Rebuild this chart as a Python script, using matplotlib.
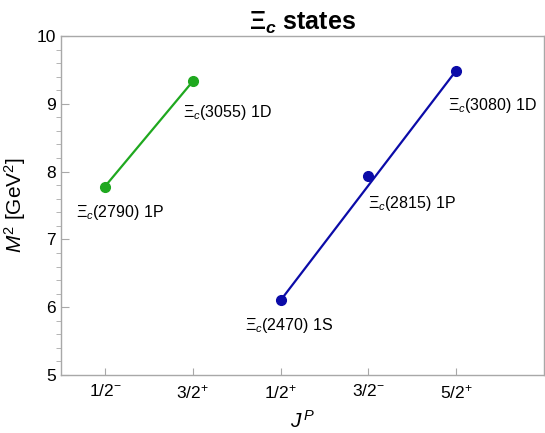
import numpy as np
import matplotlib
matplotlib.use("Agg")
import matplotlib.pyplot as plt
from matplotlib.ticker import MultipleLocator

plt.rcParams['font.family'] = ['Liberation Sans', 'DejaVu Sans']
plt.rcParams['mathtext.fontset'] = 'custom'
plt.rcParams['mathtext.rm'] = 'Liberation Sans'
plt.rcParams['mathtext.it'] = 'Liberation Sans:italic'
plt.rcParams['mathtext.bf'] = 'Liberation Sans:bold'
plt.rcParams['mathtext.bfit'] = 'Liberation Sans:bold:italic'

# J^P categories along the x axis
jp_labels = [r'1/2$^{-}$', r'3/2$^{+}$', r'1/2$^{+}$', r'3/2$^{-}$', r'5/2$^{+}$']
jp_pos = [1, 2, 3, 4, 5]

# green trajectory
green_x = [1, 2]
green_m2 = [7.78, 9.33]
green_names = [r'$\Xi_c$(2790) 1P', r'$\Xi_c$(3055) 1D']

# blue trajectory
blue_x = [3, 4, 5]
blue_m2 = [6.10, 7.93, 9.49]
blue_names = [r'$\Xi_c$(2470) 1S', r'$\Xi_c$(2815) 1P', r'$\Xi_c$(3080) 1D']

# label offsets (pixels)
green_off = [(15, -26), (35, -31)]
blue_off = [(9, -25), (44, -27), (36, -35)]

green = '#1fa81f'
blue = '#0b0ba8'
frame = '#a8a8a8'

fig = plt.figure(figsize=(5.45, 4.33), dpi=100)
ax = fig.add_axes([61/545, 1 - 375/433, (544 - 61)/545, (375 - 36)/433])

ax.plot(green_x, green_m2, color=green, lw=1.6, marker='o', ms=7)
bx = np.array(blue_x)
by = np.array(blue_m2)
ax.plot(bx[[0, -1]], by[[0, -1]], color=blue, lw=1.6)
ax.plot(bx, by, 'o', color=blue, ms=7)

for x, y, s, o in zip(green_x, green_m2, green_names, green_off):
    ax.annotate(s, (x, y), xytext=o, textcoords='offset pixels',
                ha='center', va='center', fontsize=11.5)
for x, y, s, o in zip(blue_x, blue_m2, blue_names, blue_off):
    ax.annotate(s, (x, y), xytext=o, textcoords='offset pixels',
                ha='center', va='center', fontsize=11.5)

ax.set_xlim(0.5, 6)
ax.set_ylim(5, 10)
ax.set_xticks(jp_pos)
ax.set_xticklabels(jp_labels)
ax.yaxis.set_major_locator(MultipleLocator(1))
ax.yaxis.set_minor_locator(MultipleLocator(0.2))
ax.tick_params(axis='both', direction='in', color=frame, labelsize=12.5)
ax.tick_params(axis='y', which='major', length=6)
ax.tick_params(axis='y', which='minor', length=3.5, color=frame)
ax.tick_params(axis='x', length=5, pad=6)
for sp in ax.spines.values():
    sp.set_color(frame)
    sp.set_linewidth(1.0)

ax.set_xlabel(r'$J^{\,P}$', fontsize=15, labelpad=6)
ax.set_ylabel(r'$M^2$ [GeV$^2$]', fontsize=15, labelpad=6)
ax.set_title(r'$\mathbf{\Xi}_{\mathbfit{c}}$ states', fontsize=18, fontweight='bold', pad=4)

fig.savefig('out.png', dpi=100)
